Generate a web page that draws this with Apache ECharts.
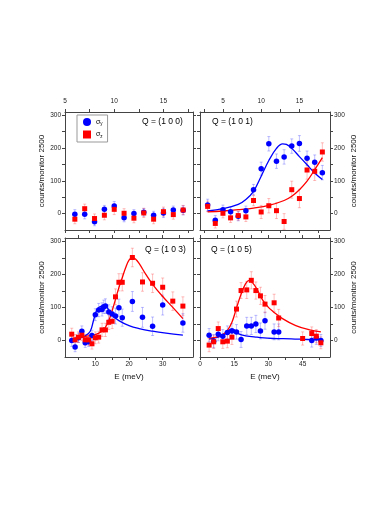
<!DOCTYPE html>
<html>
<head>
<meta charset="utf-8">
<script src="https://cdn.jsdelivr.net/npm/echarts@6/dist/echarts.min.js"></script>
<style>
html, body { margin: 0; padding: 0; background: #fff; }
#chart { width: 390px; height: 505px; }
</style>
</head>
<body>
<div id="chart"></div>
<script>
// points are [E (meV), counts, error]
// Q = (1 0 0)
var q100Y = [[6,-2,14],[7,-2,14],[8,-25,12],[9,13,12],[10,23,14],[11,-13,12],[12,0,12],[13,4,12],[14,-5,12],[15,2,14],[16,11,12],[17,10,14]];
var q100Z = [[6,-17,14],[7,15,14],[8,-15,14],[9,-5,14],[10,13,16],[11,1,14],[12,-14,14],[13,2,14],[14,-17,14],[15,6,14],[16,-3,14],[17,11,14]];

// Q = (1 0 1)
var q101Y = [[3,26,18],[4,-20,14],[5,12,14],[6,6,14],[7,-8,14],[8,9,14],[9,73,16],[10,137,20],[11,213,22],[12,160,22],[13,173,22],[14,206,22],[15,214,24],[16,169,22],[17,157,22],[18,125,22]];
var q101Z = [[3,22,16],[4,-30,14],[5,1,14],[6,-13,14],[7,-6,14],[8,-10,14],[9,40,16],[10,5,20],[11,24,22],[12,9,24],[13,-24,24],[14,73,26],[15,46,28],[16,133,28],[17,129,28],[18,188,28]];
var q101YFit = [[3,8],[5,15],[7,28],[8,43],[9,68],[10,114],[11,162],[12,199],[12.8,213],[13.3,211],[14,199],[15,174],[16,149],[17,124],[18,104]];
var q101ZFit = [[3,5],[5,8],[7,12],[9,17],[11,25],[13,40],[14,53],[15,73],[16,99],[17,134],[18,171]];

// Q = (1 0 3)
var q103Y = [[3,0,18],[4,-20,14],[5,8,14],[6,28,16],[7,-7,14],[8,-4,14],[9,15,16],[10,78,18],[11,92,20],[12,94,20],[12.5,102,20],[13,104,22],[14,86,22],[15,80,22],[16,74,24],[17,99,26],[18,69,26],[21,118,30],[24,70,30],[27,43,28],[30,107,30],[36,53,28]];
var q103Z = [[3,19,18],[4,2,16],[5,10,16],[6,16,16],[7,2,16],[8,2,16],[9,-10,16],[10,8,18],[11,10,18],[12,32,20],[13,32,20],[14,55,22],[15,58,22],[16,132,24],[17,176,26],[18,176,26],[21,251,28],[24,177,28],[27,173,28],[30,161,28],[33,119,28],[36,104,28]];
var q103YFit = [[3,4],[5,7],[7,14],[8.5,28],[9.5,62],[10.5,93],[12,104],[13,104],[14,92],[15,77],[17,60],[20,45],[23,36],[27,28],[31,22],[36,16]];
var q103ZFit = [[3,5],[7,12],[10,18],[12,28],[13,40],[14,60],[15,90],[16,125],[17,160],[18,190],[19,220],[20,243],[21,251],[22,246],[23,233],[25,200],[27,170],[30,133],[33,100],[36,66]];

// Q = (1 0 5)
var q105Y = [[4,16,20],[6,-2,20],[8,19,20],[10,13,20],[12,24,20],[14,29,22],[16,26,22],[18,3,24],[20.5,44,26],[22.5,44,26],[24.5,50,26],[26.5,29,24],[28.5,60,26],[32.5,26,24],[34.5,26,24],[49,0,20],[51,8,20],[53,0,18]];
var q105Z = [[4,-14,20],[6,-4,20],[8,36,20],[10,-4,20],[12,-2,20],[14,10,22],[16,95,24],[18,151,24],[20.5,153,26],[22.5,182,26],[24.5,151,26],[26.5,135,26],[28.5,110,26],[32.5,114,26],[34.5,68,26],[45,6,20],[49,21,20],[51,13,20],[53,-7,18]];
var q105YFit = [[4,4],[8,10],[11,20],[13,32],[14,35],[15,32],[17,20],[20,14],[25,10],[32,6],[40,5],[47,3],[53,2]];
var q105ZFit = [[4,7],[8,12],[10,18],[12,30],[14,55],[16,98],[18,140],[20,172],[21.5,182],[23,175],[25,155],[27.5,122],[30,100],[32,88],[36,67],[42,45],[48,32],[53,26]];

var yLabels = [0, 100, 200, 300];
var yTicks = [0, 50, 100, 150, 200, 250, 300];

var BLUE = '#0000ff';
var RED = '#ff0000';
var FONT = 'Liberation Sans, Arial, sans-serif';

var panels = [
  { grid: { left: 65, top: 112, width: 128, height: 118 }, min: 5, max: 18,
    labels: [5, 10, 15], ticks: [5, 7.5, 10, 12.5, 15, 17.5],
    top: true, left: true, q: 'Q = (1 0 0)', qPos: [142, 117],
    y: q100Y, z: q100Z },
  { grid: { left: 200, top: 112, width: 130, height: 118 }, min: 2, max: 19,
    labels: [5, 10, 15], ticks: [2.5, 5, 7.5, 10, 12.5, 15, 17.5],
    top: true, left: false, q: 'Q = (1 0 1)', qPos: [212, 117],
    y: q101Y, z: q101Z, yFit: q101YFit, zFit: q101ZFit },
  { grid: { left: 65, top: 238, width: 128, height: 119 }, min: 1, max: 39,
    labels: [10, 20, 30], ticks: [5, 10, 15, 20, 25, 30, 35],
    top: false, left: true, q: 'Q = (1 0 3)', qPos: [145, 245],
    y: q103Y, z: q103Z, yFit: q103YFit, zFit: q103ZFit },
  { grid: { left: 200, top: 238, width: 130, height: 119 }, min: 0, max: 57,
    labels: [0, 15, 30, 45], ticks: [0, 7.5, 15, 22.5, 30, 37.5, 45, 52.5],
    top: false, left: false, q: 'Q = (1 0 5)', qPos: [211, 245],
    y: q105Y, z: q105Z, yFit: q105YFit, zFit: q105ZFit }
];

var lineStyle = { color: '#444', width: 1 };
var labelStyle = { color: '#222', fontSize: 6.5, fontFamily: FONT };

function errorBars(color) {
  return function (params, api) {
    var x = api.value(0), y = api.value(1), e = api.value(2);
    var lo = api.coord([x, y - e]);
    var hi = api.coord([x, y + e]);
    var st = { stroke: color, lineWidth: 1 };
    return {
      type: 'group',
      children: [
        { type: 'line', shape: { x1: lo[0], y1: lo[1], x2: hi[0], y2: hi[1] }, style: st },
        { type: 'line', shape: { x1: lo[0] - 1.5, y1: lo[1], x2: lo[0] + 1.5, y2: lo[1] }, style: st },
        { type: 'line', shape: { x1: hi[0] - 1.5, y1: hi[1], x2: hi[0] + 1.5, y2: hi[1] }, style: st }
      ]
    };
  };
}

var grids = [], xAxes = [], yAxes = [], series = [], titles = [];

panels.forEach(function (p, i) {
  grids.push(p.grid);
  ['bottom', 'top'].forEach(function (pos) {
    var showLab = (pos === 'top') === p.top;
    xAxes.push({
      gridIndex: i, type: 'value', position: pos, min: p.min, max: p.max,
      axisLine: { show: true, onZero: false, lineStyle: lineStyle },
      axisTick: { show: true, length: 3, customValues: p.ticks, lineStyle: lineStyle },
      axisLabel: { show: showLab, customValues: p.labels, margin: pos === 'top' ? 7 : 4,
        color: labelStyle.color, fontSize: labelStyle.fontSize, fontFamily: FONT },
      splitLine: { show: false },
      name: (pos === 'bottom' && !p.top) ? 'E (meV)' : '',
      nameLocation: 'middle', nameGap: 16,
      nameTextStyle: { color: '#111', fontSize: 8, fontFamily: FONT }
    });
  });
  ['left', 'right'].forEach(function (pos) {
    var showLab = (pos === 'left') === p.left;
    yAxes.push({
      gridIndex: i, type: 'value', position: pos, min: -50, max: 310,
      axisLine: { show: true, onZero: false, lineStyle: lineStyle },
      axisTick: { show: true, length: 3, customValues: yTicks, lineStyle: lineStyle },
      axisLabel: { show: showLab, customValues: yLabels, margin: 4,
        color: labelStyle.color, fontSize: labelStyle.fontSize, fontFamily: FONT },
      splitLine: { show: false },
      name: showLab ? 'counts/monitor 2500' : '',
      nameLocation: 'middle', nameRotate: 90, nameGap: pos === 'left' ? 18 : 20,
      nameTextStyle: { color: '#111', fontSize: 8, fontFamily: FONT }
    });
  });

  var xi = i * 2, yi = i * 2;
  series.push({ type: 'custom', xAxisIndex: xi, yAxisIndex: yi, silent: true, clip: true,
    renderItem: errorBars('rgba(0,0,255,0.25)'), encode: { x: 0, y: 1 }, data: p.y, z: 1 });
  series.push({ type: 'custom', xAxisIndex: xi, yAxisIndex: yi, silent: true, clip: true,
    renderItem: errorBars('rgba(255,0,0,0.25)'), encode: { x: 0, y: 1 }, data: p.z, z: 1 });
  if (p.yFit) {
    series.push({ type: 'line', name: 'fitY' + i, xAxisIndex: xi, yAxisIndex: yi, data: p.yFit,
      smooth: 0.4, showSymbol: false, silent: true, z: 2,
      lineStyle: { color: BLUE, width: 1.3 } });
    series.push({ type: 'line', name: 'fitZ' + i, xAxisIndex: xi, yAxisIndex: yi, data: p.zFit,
      smooth: 0.4, showSymbol: false, silent: true, z: 2,
      lineStyle: { color: RED, width: 1.3 } });
  }
  series.push({ type: 'scatter', name: 'σy', xAxisIndex: xi, yAxisIndex: yi,
    data: p.y.map(function (d) { return [d[0], d[1]]; }),
    symbol: 'circle', symbolSize: 5.5, itemStyle: { color: BLUE, opacity: 1 }, z: 3 });
  series.push({ type: 'scatter', name: 'σz', xAxisIndex: xi, yAxisIndex: yi,
    data: p.z.map(function (d) { return [d[0], d[1]]; }),
    symbol: 'rect', symbolSize: 5, itemStyle: { color: RED, opacity: 1 }, z: 3 });

  titles.push({ text: p.q, left: p.qPos[0], top: p.qPos[1], padding: 0,
    textStyle: { fontSize: 8.5, fontWeight: 'normal', color: '#000', fontFamily: FONT } });
});

var chart = echarts.init(document.getElementById('chart'));
chart.setOption({
  animation: false,
  backgroundColor: '#fff',
  title: titles,
  legend: {
    left: 77, top: 115, orient: 'vertical',
    data: [{ name: 'σy', icon: 'circle' }, { name: 'σz', icon: 'rect' }],
    itemWidth: 8, itemHeight: 8, itemGap: 4,
    padding: [3, 5, 3, 6],
    borderColor: '#999', borderWidth: 1,
    selectedMode: false,
    itemStyle: { opacity: 1 },
    formatter: function (name) {
      return '{s|σ}{b|' + name.slice(1) + '}';
    },
    textStyle: {
      fontFamily: FONT, color: '#000',
      rich: {
        s: { fontSize: 7, fontFamily: FONT },
        b: { fontSize: 4.5, fontFamily: FONT, padding: [4, 0, 0, 0] }
      }
    }
  },
  grid: grids,
  xAxis: xAxes,
  yAxis: yAxes,
  series: series
});
</script>
</body>
</html>
